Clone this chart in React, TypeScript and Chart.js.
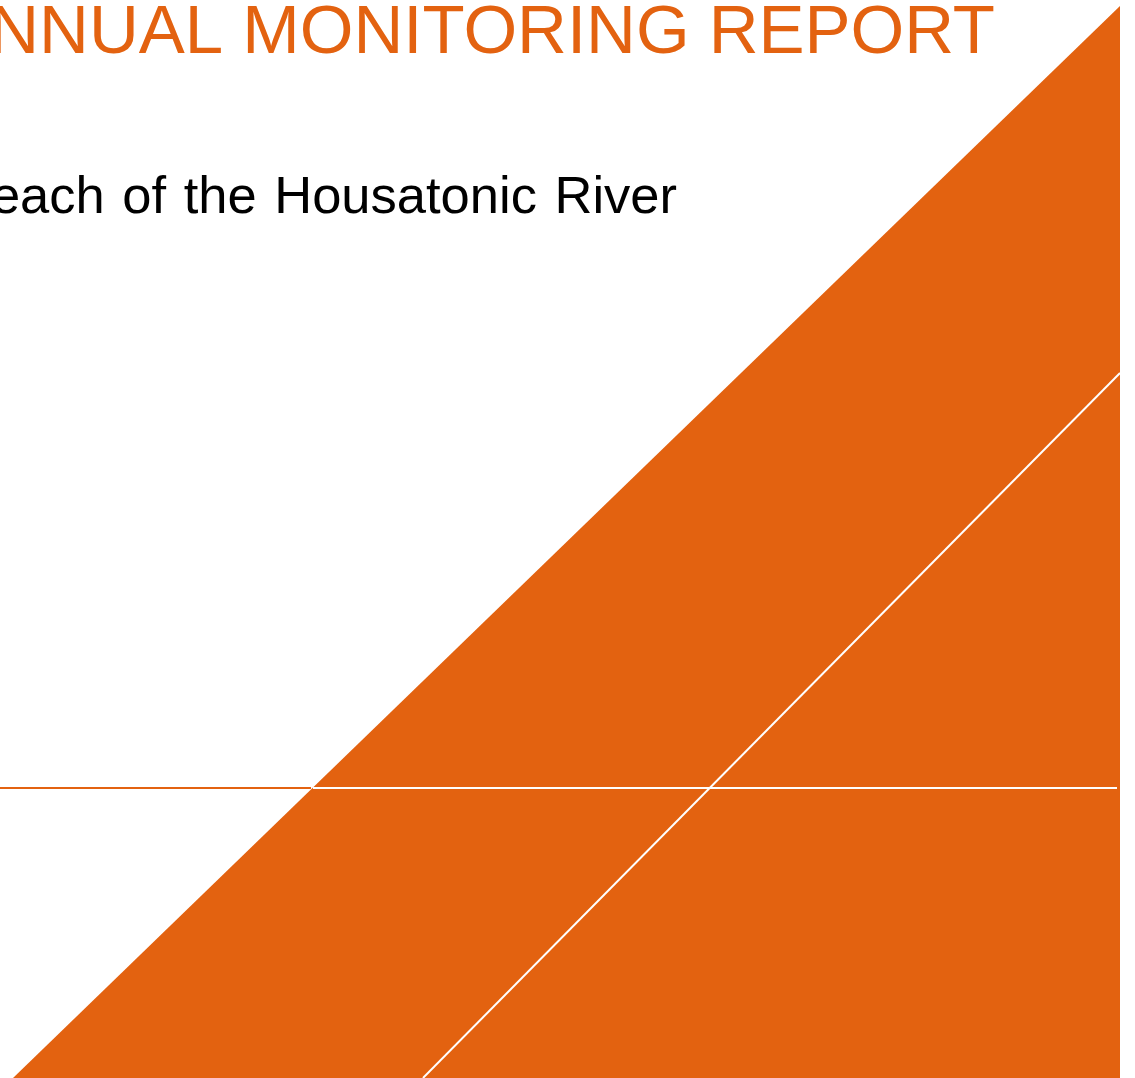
import React, { useEffect, useRef } from "react";
import { Chart, registerables } from "chart.js";

Chart.register(...registerables);

// Title texts
const titleText = "ANNUAL MONITORING REPORT";
const subtitleText = "Reach of the Housatonic River";

// Geometry of the cover graphic in data units (x: 0..1135, y: 0..1078 from bottom)
const triangleEdgeX = [13, 1120];
const triangleEdgeY = [0, 1072];
const orangeRuleX = [0, 311];
const orangeRuleY = [290, 290];
const whiteRuleX = [313, 1117];
const whiteRuleY = [290, 290];
const whiteDiagX = [423, 1120];
const whiteDiagY = [0, 705];

const ORANGE = "#E36210";

const pts = (xs: number[], ys: number[]) => xs.map((x, i) => ({ x, y: ys[i] }));

const textPlugin = {
  id: "coverText",
  afterDraw(chart: any) {
    const ctx = chart.ctx;
    ctx.save();
    ctx.textBaseline = "alphabetic";
    ctx.textAlign = "right";
    ctx.fillStyle = ORANGE;
    ctx.font = '69px "Liberation Sans", Arial, sans-serif';
    ctx.fillText(titleText, 995, 53);
    ctx.fillStyle = "#000000";
    ctx.font = '52.5px "Liberation Sans", Arial, sans-serif';
    ctx.wordSpacing = "3px";
    ctx.fillText(subtitleText, 677, 213);
    ctx.restore();
  },
};

export default function App() {
  const ref = useRef<HTMLCanvasElement | null>(null);
  useEffect(() => {
    document.body.style.margin = "0";
    document.body.style.overflow = "hidden";
    if (!ref.current) return;
    const chart = new Chart(ref.current, {
      type: "scatter",
      data: {
        datasets: [
          {
            data: pts(whiteDiagX, whiteDiagY),
            showLine: true,
            borderColor: "#ffffff",
            borderWidth: 2,
            pointRadius: 0,
            fill: false,
            order: 1,
          },
          {
            data: pts(whiteRuleX, whiteRuleY),
            showLine: true,
            borderColor: "#ffffff",
            borderWidth: 2,
            pointRadius: 0,
            fill: false,
            order: 2,
          },
          {
            data: pts(orangeRuleX, orangeRuleY),
            showLine: true,
            borderColor: ORANGE,
            borderWidth: 2,
            pointRadius: 0,
            fill: false,
            order: 3,
          },
          {
            data: pts(triangleEdgeX, triangleEdgeY),
            showLine: true,
            borderColor: ORANGE,
            borderWidth: 0,
            backgroundColor: ORANGE,
            pointRadius: 0,
            fill: "start",
            order: 10,
          },
        ],
      },
      options: {
        animation: false,
        responsive: false,
        devicePixelRatio: 1,
        layout: { padding: 0 },
        plugins: { legend: { display: false }, tooltip: { enabled: false } },
        scales: {
          x: { type: "linear", min: 0, max: 1135, display: false },
          y: { type: "linear", min: 0, max: 1078, display: false },
        },
      },
      plugins: [textPlugin],
    });
    return () => chart.destroy();
  }, []);
  return (
    <div style={{ position: "absolute", left: 0, top: 0, width: 1135, height: 1078, background: "#fff" }}>
      <canvas ref={ref} width={1135} height={1078} />
    </div>
  );
}
